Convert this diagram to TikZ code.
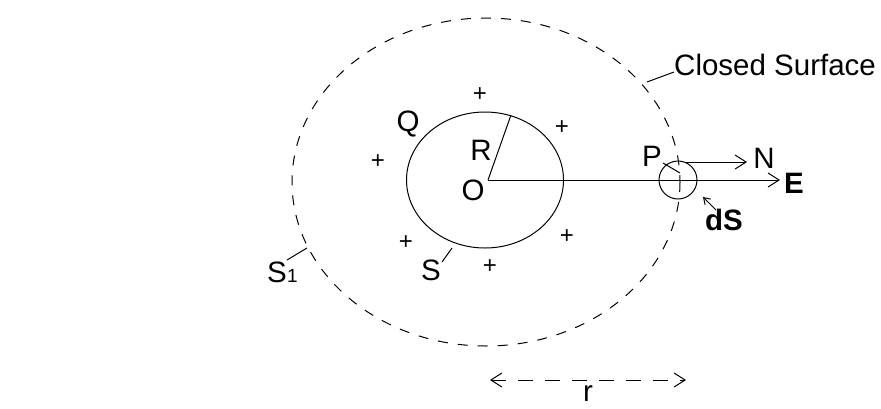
\documentclass[tikz,border=0pt]{standalone}
\usepackage{fontspec}
\setmainfont{Liberation Sans}
\usetikzlibrary{arrows.meta}
\tikzset{
  lbl/.style={inner sep=0pt, font=\fontsize{29.5}{31}\selectfont},
  plus/.style={inner sep=0pt, font=\fontsize{24}{26}\selectfont},
  barb/.style={-{Straight Barb[length=11pt,width=14pt]}},
  outerdash/.style={dash pattern=on 10pt off 10pt, line width=1pt},
  thin line/.style={line width=1pt}
}
\begin{document}
\begin{tikzpicture}[x=1pt,y=-1pt]
\useasboundingbox (0,0) rectangle (881,408);
% outer closed surface S1
\draw[outerdash] (486,182) ellipse [x radius=194, y radius=164];
% inner sphere S
\draw[thin line] (485,180) ellipse [x radius=78.5, y radius=68];
\coordinate (O) at (488,180);
\coordinate (Rend) at (511,115);
\draw[thin line] (O) -- (Rend);
% small area element dS at P
\node[draw, circle, minimum size=38pt, inner sep=0pt, thin line] (ds) at (678,180) {};
\coordinate (Eend) at (780,180);
\draw[thin line, barb] (O) -- (Eend);
\coordinate (Nstart) at (686,162);
\coordinate (Nend) at (747,162);
\draw[thin line, barb] (Nstart) -- (Nend);
% labels
\node[lbl, anchor=west] (E) at (784,183) {\textbf{E}};
\node[lbl] (N) at (764,158) {N};
\node[lbl] (P) at (652,156) {P};
\coordinate (Pa) at (663,163);
\coordinate (Pb) at (680,173);
\draw[thin line] (Pa) -- (Pb);
\node[lbl] (dS) at (724,220) {\textbf{dS}};
\coordinate (dSa) at (716,210);
\coordinate (dSb) at (703,197);
\draw[thin line, -{Straight Barb[length=6pt,width=8pt]}] (dSa) -- (dSb);
\node[lbl] (R) at (481,150) {R};
\node[lbl] (Olab) at (473,190) {O};
\node[lbl] (Q) at (408,124) {Q};
\node[lbl] (S) at (431,270) {S};
\coordinate (Sa) at (442,262);
\coordinate (Sb) at (452,248);
\draw[thin line] (Sa) -- (Sb);
\node[lbl, anchor=base east] (S1) at (287,282) {S};
\node[inner sep=0pt, anchor=base west, font=\fontsize{19}{20}\selectfont] (S1sub) at (S1.base east) {1};
\coordinate (S1a) at (287,260);
\coordinate (S1b) at (307,248);
\draw[thin line] (S1a) -- (S1b);
\node[lbl, anchor=west] (CS) at (674,65) {Closed Surface};
\coordinate (CSa) at (647,82);
\coordinate (CSb) at (674,72);
\draw[thin line] (CSa) -- (CSb);
% plus charges
\node[plus] (p1) at (480,95) {+};
\node[plus] (p2) at (562,128) {+};
\node[plus] (p3) at (378,162) {+};
\node[plus] (p4) at (406,243) {+};
\node[plus] (p5) at (567,237) {+};
\node[plus] (p6) at (490,267) {+};
% distance r
\coordinate (rl) at (490,380);
\coordinate (rr) at (686,380);
\draw[line width=1pt, dash pattern=on 15pt off 12pt, {Straight Barb[length=11pt,width=14pt]}-{Straight Barb[length=11pt,width=14pt]}] (rl) -- (rr);
\node[lbl, anchor=base] (r) at (588,401) {r};
\end{tikzpicture}
\end{document}
